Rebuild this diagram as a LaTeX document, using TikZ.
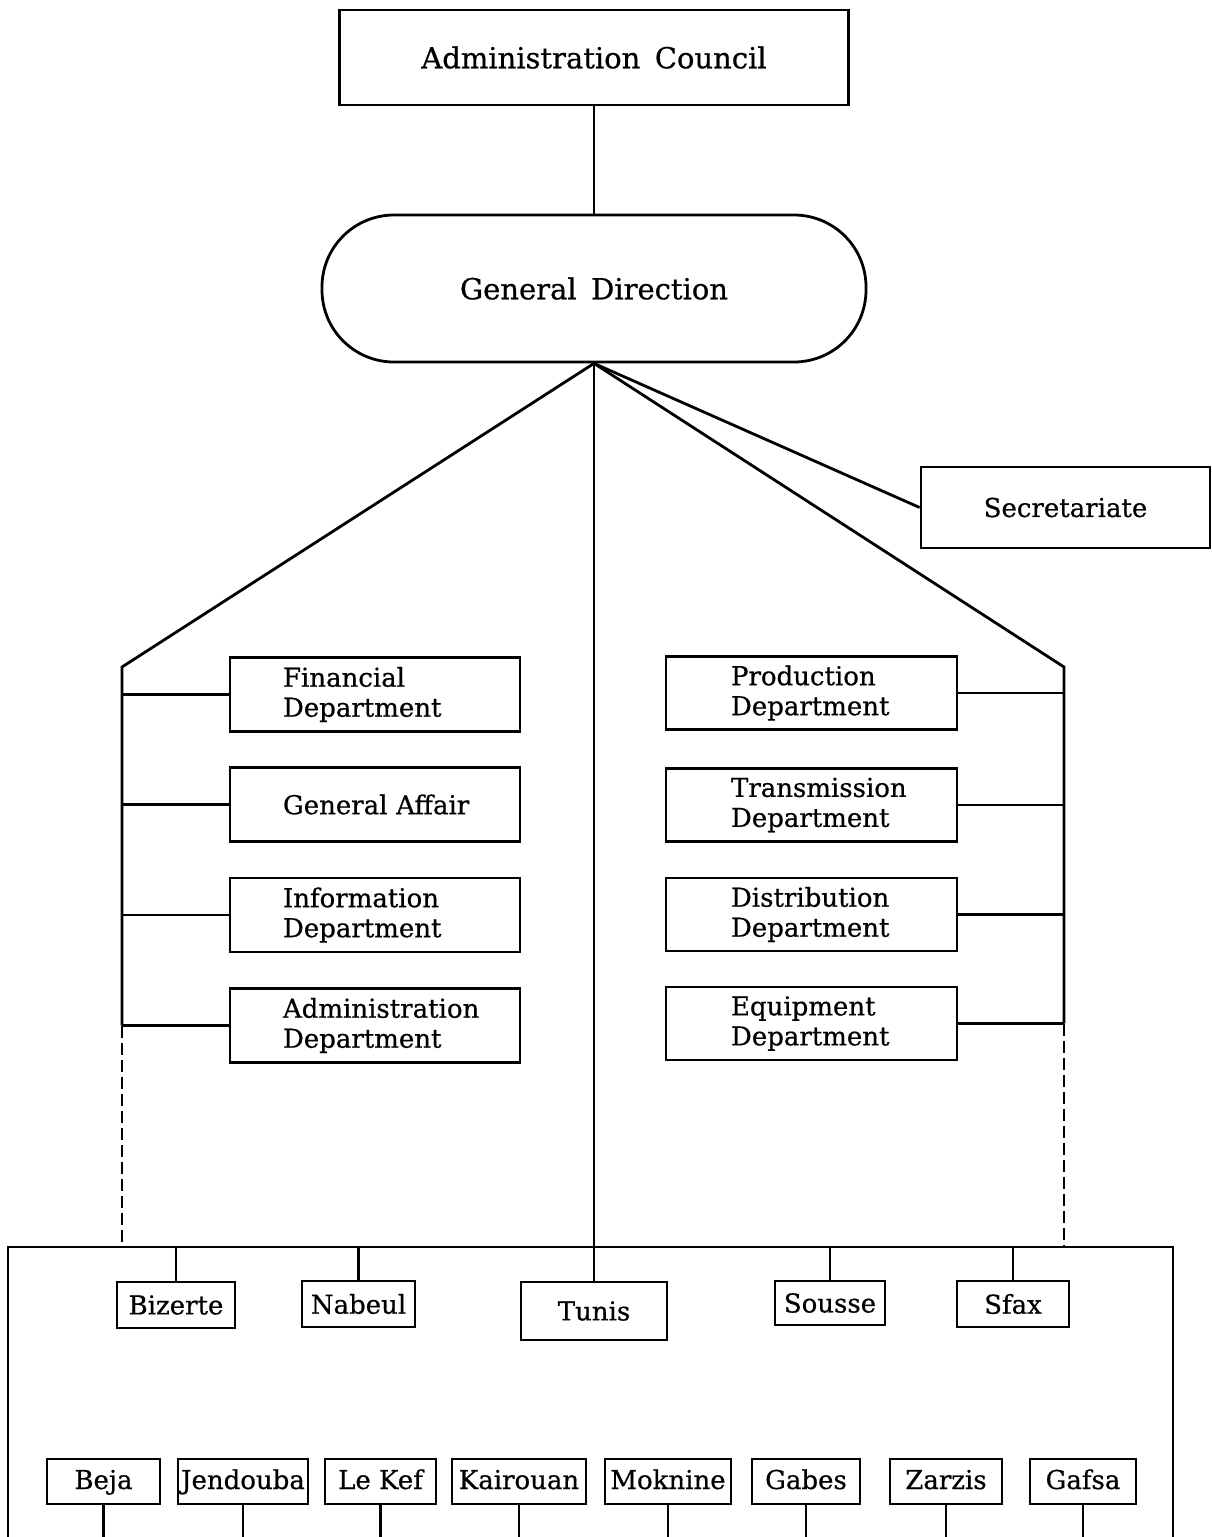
\documentclass[tikz,border=0pt]{standalone}
\usepackage{fontspec}
\setmainfont{DejaVu Serif}[FakeBold=0.6]
\newcommand\fsA{\fontsize{14.5}{16}\selectfont}
\newcommand\fsB{\fontsize{13}{15}\selectfont}
\begin{document}
\begin{tikzpicture}[x=0.5pt,y=-0.5pt,
  ln/.style={line width=1.4pt},
  dashln/.style={line width=1.4pt,dash pattern=on 6pt off 2.5pt},
  bx/.style={draw,line width=1.4pt,inner sep=0pt,font=\fsB},
  ldept/.style={bx,align=left,font={\fsB\hyphenpenalty=10000},minimum width=145pt,minimum height=37pt,text width=92pt},
  rdept/.style={bx,align=left,font={\fsB\hyphenpenalty=10000},minimum width=145.5pt,minimum height=36.5pt,text width=80.5pt},
  city/.style={bx,minimum height=22.5pt,text height=10.5pt,text depth=3pt}]
\useasboundingbox (0,0) rectangle (1211,1537);
\clip (0,0) rectangle (1211,1537);

% top
\node[bx,font=\fsA,minimum width=254.5pt,minimum height=47.5pt] (ac) at (594,57.5) {Administration\enspace Council};
\node[draw,line width=1.4pt,rounded corners=36pt,inner sep=0pt,font=\fsA,minimum width=272pt,minimum height=73.5pt] (gd) at (594,288.5) {General\enspace Direction};
\node[bx,minimum width=144.5pt,minimum height=40.5pt] (sec) at (1065.5,507.5) {Secretariate};

% left departments
\node[ldept] (fin) at (375,694.5) {Financial\\Department};
\node[ldept] (gen) at (375,804.5) {\mbox{General Affair}};
\node[ldept] (inf) at (375,915) {Information\\Department};
\node[ldept] (adm) at (375,1025.5) {Administration\\Department};

% right departments
\node[rdept] (pro) at (811.5,693) {Production\\Department};
\node[rdept] (tra) at (811.5,805) {Transmission\\Department};
\node[rdept] (dis) at (811.5,914.5) {Distribution\\Department};
\node[rdept] (equ) at (811.5,1023.5) {Equipment\\Department};

% first row of regions
\node[bx,minimum width=59pt,minimum height=23pt] (biz) at (176,1305) {Bizerte};
\node[bx,minimum width=56.5pt,minimum height=23pt] (nab) at (358.5,1304) {Nabeul};
\node[bx,minimum width=73pt,minimum height=29pt] (tun) at (594,1311) {Tunis};
\node[bx,minimum width=55pt,minimum height=22pt] (sou) at (830,1303) {Sousse};
\node[bx,minimum width=56pt,minimum height=23pt] (sfa) at (1013,1304) {Sfax};

% second row of regions
\node[city,minimum width=56.5pt] (bej) at (103.5,1481.5) {Beja};
\node[city,minimum width=65pt] (jen) at (243,1481.5) {Jendouba};
\node[city,minimum width=55.5pt] (kef) at (380.5,1481.5) {Le Kef};
\node[city,minimum width=67pt] (kai) at (519,1481.5) {Kairouan};
\node[city,minimum width=63pt] (mok) at (668,1481.5) {Moknine};
\node[city,minimum width=54pt] (gab) at (806,1481.5) {Gabes};
\node[city,minimum width=56pt] (zar) at (946,1481.5) {Zarzis};
\node[city,minimum width=53pt] (gaf) at (1083,1481.5) {Gafsa};

% helper coordinates
\coordinate (apex) at (gd.south);
\coordinate (lt) at (122,667);
\coordinate (rt) at (1064,667);
\coordinate (ld) at (122,1025.5);
\coordinate (rd) at (1064,1023.5);
\coordinate (lb) at (122,1247);
\coordinate (rb) at (1064,1247);
\coordinate (fl) at (8,1247);
\coordinate (fr) at (1173,1247);
\coordinate (flb) at (8,1580);
\coordinate (frb) at (1173,1580);
\coordinate (bot) at (0,1580);

% connectors
\draw[ln] (ac.south) -- (gd.north);
\draw[ln] (apex) -- (lt) -- (ld);
\draw[ln] (apex) -- (rt) -- (rd);
\draw[ln] (apex) -- (sec.west);
\draw[ln] (apex) -- (tun.north);
\draw[dashln] (ld) -- (lb);
\draw[dashln] (rd) -- (rb);
\draw[ln] (flb) -- (fl) -- (fr) -- (frb);

\foreach \n in {fin,gen,inf,adm}{\draw[ln] (\n.west) -- (\n.west -| lt);}
\foreach \n in {pro,tra,dis,equ}{\draw[ln] (\n.east) -- (\n.east -| rt);}
\foreach \n in {biz,nab,sou,sfa}{\draw[ln] (\n.north) -- (\n.north |- fl);}
\foreach \n in {bej,jen,kef,kai,mok,gab,zar,gaf}{\draw[ln] (\n.south) -- (\n.south |- bot);}
\end{tikzpicture}
\end{document}
